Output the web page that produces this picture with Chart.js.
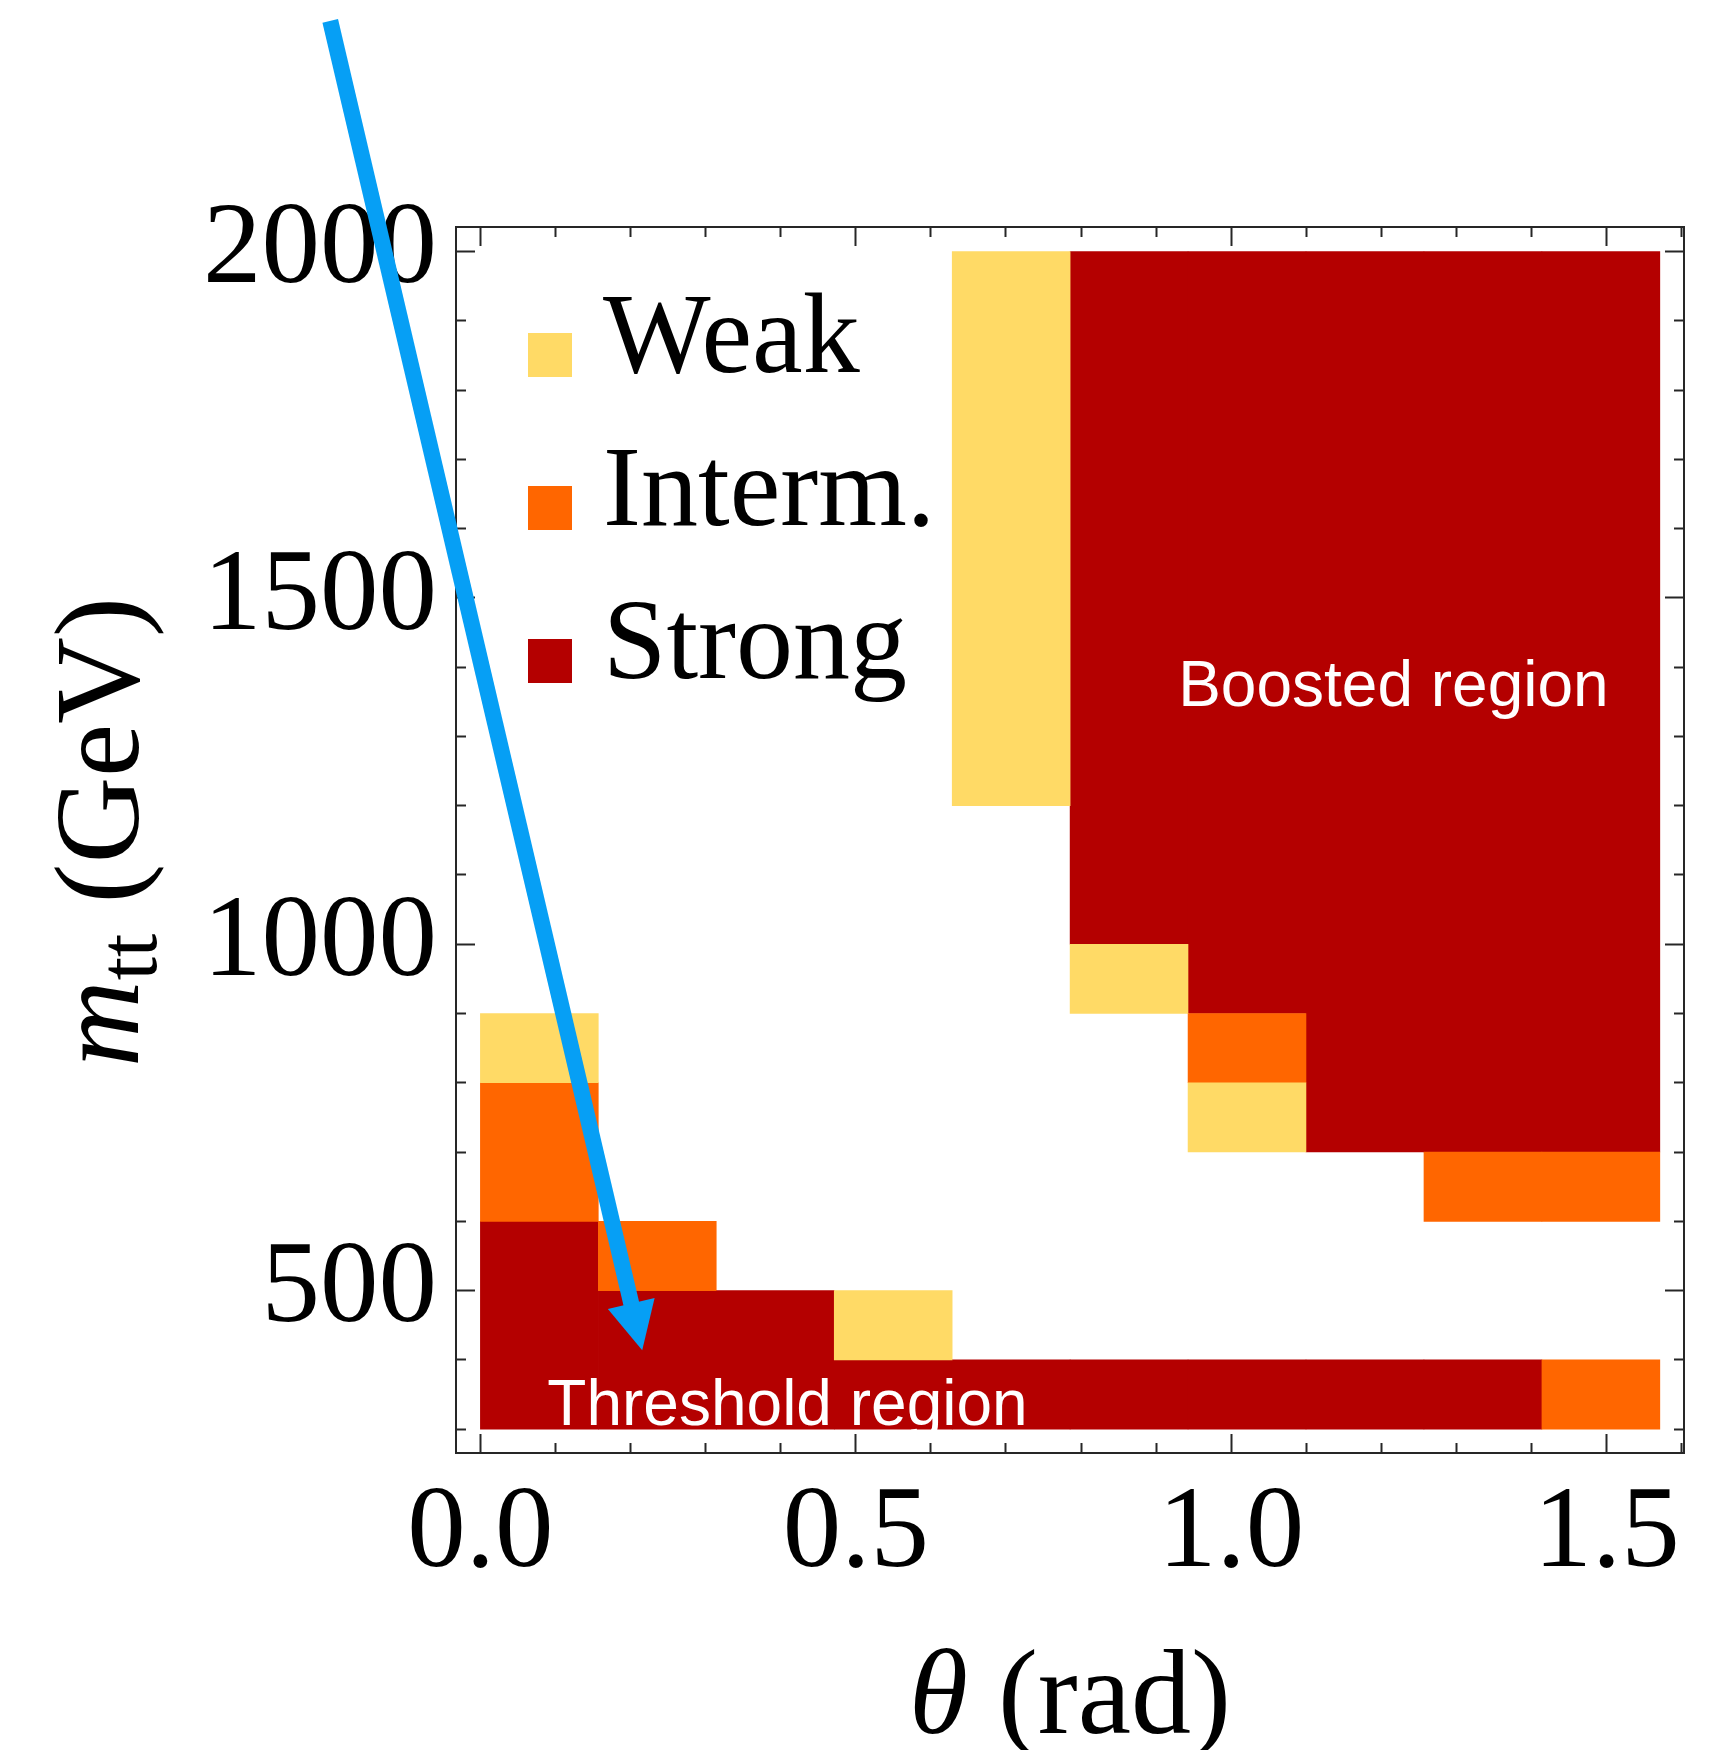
<!DOCTYPE html>
<html>
<head>
<meta charset="utf-8">
<title>m_tt vs theta regions</title>
<script src="https://cdn.jsdelivr.net/npm/chart.js@4.4.1/dist/chart.umd.min.js"></script>
<style>
  html, body { margin: 0; padding: 0; background: #fff; }
  #wrap { width: 1731px; height: 1750px; }
</style>
</head>
<body>
<div id="wrap"><canvas id="regions" width="1731" height="1750"></canvas></div>
<script>
// theta bins: ten slices of pi/20 between 0 and pi/2 (bin centres, rad)
const thetaCentres = [0.0785, 0.2356, 0.3927, 0.5498, 0.7069, 0.8639, 1.0210, 1.1781, 1.3352, 1.4923];

// cells as [theta bin, m_tt low, m_tt high] in GeV
const weakCells = [
  [0, 800, 900], [3, 400, 500], [4, 1200, 2000], [5, 900, 1000], [6, 700, 800]
];
const intermCells = [
  [0, 600, 800], [1, 500, 600], [6, 800, 900], [8, 600, 700], [9, 600, 700], [9, 300, 400]
];
const strongCells = [
  [0, 300, 600], [1, 300, 500], [2, 300, 500], [3, 300, 400], [4, 300, 400],
  [5, 300, 400], [6, 300, 400], [7, 300, 400], [8, 300, 400],
  [5, 1000, 2000], [6, 900, 2000], [7, 700, 2000], [8, 700, 2000], [9, 700, 2000]
];

const thetaMajor = [0, 0.5, 1, 1.5];
const massMajor = [500, 1000, 1500, 2000];

const regionLabels = [
  { text: 'Boosted region', theta: 1.216, mass: 1344 },
  { text: 'Threshold region', theta: 0.409, mass: 306 }
];
// pointer arrow, [theta, m_tt]
const arrowFrom = [-0.200, 2333];
const arrowTo = [0.2155, 414];

const THETA_RANGE = [-0.0325, 1.603];
const MASS_RANGE = [265.5, 2035.5];

const SERIF = '"Liberation Serif", "Times New Roman", serif';
const SANS = '"Liberation Sans", Arial, sans-serif';
const FRAME = '#262626';
const MAJOR_TICK = 19;
const MINOR_TICK = 11;

function toBars(cells) {
  return cells.map(([bin, lo, hi]) => ({ x: thetaCentres[bin], y: [lo, hi] }));
}

function isMajor(ctx) {
  const list = ctx.scale.axis === 'x' ? thetaMajor : massMajor;
  return list.some(v => Math.abs(v - ctx.tick.value) < 1e-6);
}

// inward frame ticks; minor ones shortened with a dash
function frameGrid(dashOffset) {
  return {
    drawOnChartArea: false,
    offset: false,
    tickLength: -MAJOR_TICK,
    tickWidth: 2,
    tickColor: FRAME,
    tickBorderDash: c => (isMajor(c) ? [] : [MINOR_TICK, 300]),
    tickBorderDashOffset: c => (isMajor(c) ? 0 : dashOffset)
  };
}

const frameBorder = { display: true, color: FRAME, width: 2 };

function frameAxis(axis, position, size, showLabels, dashOffset) {
  const isX = axis === 'x';
  return {
    type: 'linear',
    axis: axis,
    position: position,
    min: isX ? THETA_RANGE[0] : MASS_RANGE[0],
    max: isX ? THETA_RANGE[1] : MASS_RANGE[1],
    offset: false,
    beginAtZero: false,
    border: frameBorder,
    grid: frameGrid(dashOffset),
    ticks: {
      display: showLabels,
      stepSize: isX ? 0.1 : 100,
      maxTicksLimit: 100,
      includeBounds: false,
      autoSkip: false,
      maxRotation: 0,
      color: '#000',
      font: { family: SERIF, size: 117, lineHeight: 1 },
      padding: isX ? 43 : 38,
      callback: function (v) {
        if (isX) return thetaMajor.some(t => Math.abs(t - v) < 1e-6) ? v.toFixed(1) : '';
        return massMajor.includes(v) ? String(v) : '';
      }
    },
    afterFit: s => { if (isX) s.height = size; else s.width = size; }
  };
}

const overlay = {
  id: 'overlay',
  afterDatasetsDraw(chart) {
    const { ctx, scales: { xc, y } } = chart;
    ctx.save();
    ctx.fillStyle = '#fff';
    ctx.font = '64px ' + SANS;
    ctx.textAlign = 'center';
    ctx.textBaseline = 'alphabetic';
    regionLabels.forEach(l => {
      ctx.fillText(l.text, xc.getPixelForValue(l.theta), y.getPixelForValue(l.mass));
    });
    ctx.restore();
  },
  afterDraw(chart) {
    const { ctx, chartArea: area, scales: { xc, y } } = chart;

    // legend inside the frame
    ctx.save();
    ctx.font = '114px ' + SERIF;
    ctx.textAlign = 'left';
    ctx.textBaseline = 'alphabetic';
    chart.data.datasets.forEach((ds, i) => {
      const top = area.top + 106 + i * 153;
      ctx.fillStyle = ds.backgroundColor;
      ctx.fillRect(area.left + 72, top, 44, 44);
      ctx.fillStyle = '#000';
      ctx.fillText(ds.label, area.left + 147, top + 39);
    });
    ctx.restore();

    // x axis title: theta (rad)
    ctx.save();
    ctx.fillStyle = '#000';
    ctx.textBaseline = 'alphabetic';
    ctx.textAlign = 'left';
    const fItal = 'italic 120px ' + SERIF;
    const fReg = '120px ' + SERIF;
    ctx.font = fItal;
    const wTheta = ctx.measureText('θ').width;
    ctx.font = fReg;
    const wRad = ctx.measureText(' (rad)').width;
    const tx = (area.left + area.right) / 2 - (wTheta + wRad) / 2;
    const ty = 1733;
    ctx.font = fItal;
    ctx.fillText('θ', tx, ty);
    ctx.font = fReg;
    ctx.fillText(' (rad)', tx + wTheta, ty);
    ctx.restore();

    // y axis title: m_tt (GeV), rotated
    ctx.save();
    ctx.fillStyle = '#000';
    ctx.textBaseline = 'alphabetic';
    ctx.textAlign = 'left';
    const fSub = '84px ' + SERIF;
    ctx.font = fItal;
    const wm = ctx.measureText('m').width;
    ctx.font = fSub;
    const wtt = ctx.measureText('tt').width;
    ctx.font = fReg;
    const wGeV = ctx.measureText(' (GeV)').width;
    const total = wm + wtt + wGeV;
    ctx.translate(138, (area.top + area.bottom) / 2 - 8);
    ctx.rotate(-Math.PI / 2);
    let u = -total / 2;
    ctx.font = fItal;
    ctx.fillText('m', u, 0);
    u += wm;
    ctx.font = fSub;
    ctx.fillText('tt', u, 18);
    u += wtt;
    ctx.font = fReg;
    ctx.fillText(' (GeV)', u, 0);
    ctx.restore();

    // blue pointer arrow
    const x0 = xc.getPixelForValue(arrowFrom[0]);
    const y0 = y.getPixelForValue(arrowFrom[1]);
    const x1 = xc.getPixelForValue(arrowTo[0]);
    const y1 = y.getPixelForValue(arrowTo[1]);
    const ang = Math.atan2(y1 - y0, x1 - x0);
    const cos = Math.cos(ang), sin = Math.sin(ang);
    const head = 48, half = 24;
    const bx = x1 - head * cos, by = y1 - head * sin;
    ctx.save();
    ctx.strokeStyle = '#069FF5';
    ctx.fillStyle = '#069FF5';
    ctx.lineWidth = 16;
    ctx.lineCap = 'butt';
    ctx.beginPath();
    ctx.moveTo(x0, y0);
    ctx.lineTo(bx + 2 * cos, by + 2 * sin);
    ctx.stroke();
    ctx.beginPath();
    ctx.moveTo(x1, y1);
    ctx.lineTo(bx - half * sin, by + half * cos);
    ctx.lineTo(bx + half * sin, by - half * cos);
    ctx.closePath();
    ctx.fill();
    ctx.restore();
  }
};

const barStyle = {
  xAxisID: 'xc',
  yAxisID: 'y',
  grouped: false,
  categoryPercentage: 1,
  barPercentage: 1,
  borderWidth: 0
};

new Chart(document.getElementById('regions'), {
  type: 'bar',
  data: {
    datasets: [
      Object.assign({ label: 'Weak', data: toBars(weakCells), backgroundColor: '#FFDA66' }, barStyle),
      Object.assign({ label: 'Interm.', data: toBars(intermCells), backgroundColor: '#FF6600' }, barStyle),
      Object.assign({ label: 'Strong', data: toBars(strongCells), backgroundColor: '#B40000' }, barStyle)
    ]
  },
  options: {
    responsive: false,
    animation: false,
    events: [],
    layout: { padding: 0 },
    plugins: { legend: { display: false }, tooltip: { enabled: false } },
    scales: {
      xc: {
        type: 'linear',
        axis: 'x',
        display: false,
        position: 'bottom',
        min: THETA_RANGE[0],
        max: THETA_RANGE[1],
        offset: false,
        grid: { offset: false },
        afterBuildTicks: s => { s.ticks = []; }
      },
      x: frameAxis('x', 'bottom', 297, true, 0),
      x2: frameAxis('x', 'top', 227, false, -(MAJOR_TICK - MINOR_TICK) - 1),
      y: frameAxis('y', 'left', 456, true, -(MAJOR_TICK - MINOR_TICK) - 1),
      y2: frameAxis('y', 'right', 47, false, 0)
    }
  },
  plugins: [overlay]
});
</script>
</body>
</html>
